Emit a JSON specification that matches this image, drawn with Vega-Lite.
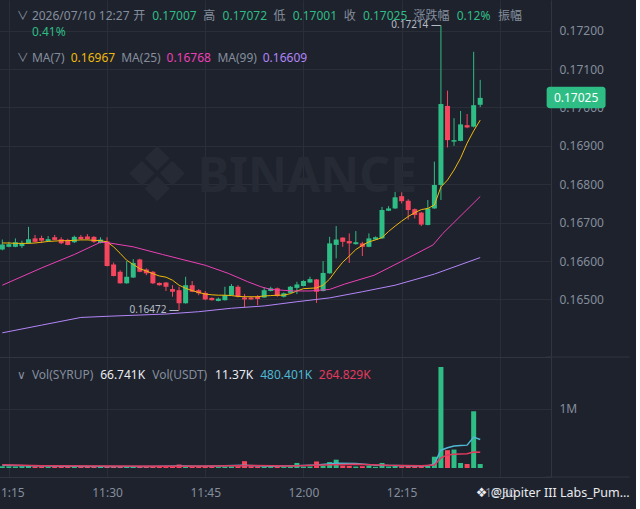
{
  "$schema": "https://vega.github.io/schema/vega-lite/v6.json",
  "background": "#1e222d",
  "padding": {"left": -7, "right": 0, "top": 0, "bottom": 0},
  "spacing": 0,
  "bounds": "flush",
  "config": {
    "view": {"stroke": null},
    "font": "Noto Sans",
    "axis": {
      "labelColor": "#848e9c",
      "labelFontSize": 12,
      "labelFont": "Noto Sans",
      "gridColor": "#2a2e39",
      "domainColor": "#30353f",
      "ticks": false
    }
  },
  "datasets": {
    "candles": [
      {"t": "2026-07-10 11:14", "o": 0.16630, "h": 0.16656, "l": 0.16628, "c": 0.16643, "v": 30000},
      {"t": "2026-07-10 11:15", "o": 0.16637, "h": 0.16650, "l": 0.16636, "c": 0.16644, "v": 28000},
      {"t": "2026-07-10 11:16", "o": 0.16637, "h": 0.16659, "l": 0.16636, "c": 0.16649, "v": 25000},
      {"t": "2026-07-10 11:17", "o": 0.16639, "h": 0.16653, "l": 0.16634, "c": 0.16647, "v": 30000},
      {"t": "2026-07-10 11:18", "o": 0.16646, "h": 0.16689, "l": 0.16645, "c": 0.16657, "v": 35000},
      {"t": "2026-07-10 11:19", "o": 0.16659, "h": 0.16668, "l": 0.16649, "c": 0.16650, "v": 25000},
      {"t": "2026-07-10 11:20", "o": 0.16660, "h": 0.16666, "l": 0.16647, "c": 0.16653, "v": 22000},
      {"t": "2026-07-10 11:21", "o": 0.16652, "h": 0.16665, "l": 0.16651, "c": 0.16657, "v": 20000},
      {"t": "2026-07-10 11:22", "o": 0.16662, "h": 0.16668, "l": 0.16654, "c": 0.16655, "v": 24000},
      {"t": "2026-07-10 11:23", "o": 0.16657, "h": 0.16662, "l": 0.16644, "c": 0.16646, "v": 30000},
      {"t": "2026-07-10 11:24", "o": 0.16655, "h": 0.16658, "l": 0.16641, "c": 0.16642, "v": 22000},
      {"t": "2026-07-10 11:25", "o": 0.16649, "h": 0.16666, "l": 0.16647, "c": 0.16663, "v": 20000},
      {"t": "2026-07-10 11:26", "o": 0.16663, "h": 0.16668, "l": 0.16656, "c": 0.16657, "v": 20000},
      {"t": "2026-07-10 11:27", "o": 0.16664, "h": 0.16670, "l": 0.16656, "c": 0.16657, "v": 22000},
      {"t": "2026-07-10 11:28", "o": 0.16663, "h": 0.16665, "l": 0.16647, "c": 0.16650, "v": 26000},
      {"t": "2026-07-10 11:29", "o": 0.16647, "h": 0.16662, "l": 0.16646, "c": 0.16656, "v": 18000},
      {"t": "2026-07-10 11:30", "o": 0.16651, "h": 0.16662, "l": 0.16586, "c": 0.16587, "v": 32000},
      {"t": "2026-07-10 11:31", "o": 0.16591, "h": 0.16596, "l": 0.16560, "c": 0.16561, "v": 24000},
      {"t": "2026-07-10 11:32", "o": 0.16572, "h": 0.16576, "l": 0.16541, "c": 0.16542, "v": 26000},
      {"t": "2026-07-10 11:33", "o": 0.16542, "h": 0.16600, "l": 0.16541, "c": 0.16559, "v": 22000},
      {"t": "2026-07-10 11:34", "o": 0.16557, "h": 0.16605, "l": 0.16556, "c": 0.16595, "v": 30000},
      {"t": "2026-07-10 11:35", "o": 0.16604, "h": 0.16606, "l": 0.16571, "c": 0.16572, "v": 22000},
      {"t": "2026-07-10 11:36", "o": 0.16578, "h": 0.16581, "l": 0.16563, "c": 0.16568, "v": 20000},
      {"t": "2026-07-10 11:37", "o": 0.16572, "h": 0.16574, "l": 0.16540, "c": 0.16542, "v": 26000},
      {"t": "2026-07-10 11:38", "o": 0.16543, "h": 0.16544, "l": 0.16536, "c": 0.16537, "v": 20000},
      {"t": "2026-07-10 11:39", "o": 0.16544, "h": 0.16545, "l": 0.16522, "c": 0.16533, "v": 24000},
      {"t": "2026-07-10 11:40", "o": 0.16527, "h": 0.16537, "l": 0.16507, "c": 0.16520, "v": 26000},
      {"t": "2026-07-10 11:41", "o": 0.16524, "h": 0.16533, "l": 0.16472, "c": 0.16490, "v": 58000},
      {"t": "2026-07-10 11:42", "o": 0.16490, "h": 0.16559, "l": 0.16489, "c": 0.16537, "v": 28000},
      {"t": "2026-07-10 11:43", "o": 0.16537, "h": 0.16548, "l": 0.16519, "c": 0.16520, "v": 22000},
      {"t": "2026-07-10 11:44", "o": 0.16524, "h": 0.16527, "l": 0.16511, "c": 0.16516, "v": 24000},
      {"t": "2026-07-10 11:45", "o": 0.16517, "h": 0.16522, "l": 0.16498, "c": 0.16500, "v": 30000},
      {"t": "2026-07-10 11:46", "o": 0.16504, "h": 0.16505, "l": 0.16497, "c": 0.16498, "v": 20000},
      {"t": "2026-07-10 11:47", "o": 0.16496, "h": 0.16505, "l": 0.16495, "c": 0.16502, "v": 16000},
      {"t": "2026-07-10 11:48", "o": 0.16498, "h": 0.16533, "l": 0.16497, "c": 0.16511, "v": 20000},
      {"t": "2026-07-10 11:49", "o": 0.16511, "h": 0.16540, "l": 0.16510, "c": 0.16535, "v": 26000},
      {"t": "2026-07-10 11:50", "o": 0.16533, "h": 0.16537, "l": 0.16505, "c": 0.16507, "v": 30000},
      {"t": "2026-07-10 11:51", "o": 0.16505, "h": 0.16514, "l": 0.16479, "c": 0.16500, "v": 115000},
      {"t": "2026-07-10 11:52", "o": 0.16505, "h": 0.16507, "l": 0.16499, "c": 0.16500, "v": 30000},
      {"t": "2026-07-10 11:53", "o": 0.16507, "h": 0.16511, "l": 0.16485, "c": 0.16501, "v": 24000},
      {"t": "2026-07-10 11:54", "o": 0.16505, "h": 0.16531, "l": 0.16504, "c": 0.16524, "v": 20000},
      {"t": "2026-07-10 11:55", "o": 0.16522, "h": 0.16533, "l": 0.16521, "c": 0.16529, "v": 16000},
      {"t": "2026-07-10 11:56", "o": 0.16529, "h": 0.16531, "l": 0.16507, "c": 0.16509, "v": 20000},
      {"t": "2026-07-10 11:57", "o": 0.16507, "h": 0.16518, "l": 0.16505, "c": 0.16516, "v": 16000},
      {"t": "2026-07-10 11:58", "o": 0.16517, "h": 0.16535, "l": 0.16516, "c": 0.16533, "v": 20000},
      {"t": "2026-07-10 11:59", "o": 0.16530, "h": 0.16546, "l": 0.16514, "c": 0.16539, "v": 85000},
      {"t": "2026-07-10 12:00", "o": 0.16535, "h": 0.16550, "l": 0.16534, "c": 0.16548, "v": 22000},
      {"t": "2026-07-10 12:01", "o": 0.16544, "h": 0.16559, "l": 0.16543, "c": 0.16553, "v": 26000},
      {"t": "2026-07-10 12:02", "o": 0.16552, "h": 0.16553, "l": 0.16491, "c": 0.16520, "v": 110000},
      {"t": "2026-07-10 12:03", "o": 0.16522, "h": 0.16600, "l": 0.16521, "c": 0.16569, "v": 40000},
      {"t": "2026-07-10 12:04", "o": 0.16568, "h": 0.16663, "l": 0.16567, "c": 0.16646, "v": 100000},
      {"t": "2026-07-10 12:05", "o": 0.16642, "h": 0.16691, "l": 0.16607, "c": 0.16656, "v": 140000},
      {"t": "2026-07-10 12:06", "o": 0.16661, "h": 0.16662, "l": 0.16637, "c": 0.16650, "v": 40000},
      {"t": "2026-07-10 12:07", "o": 0.16652, "h": 0.16672, "l": 0.16595, "c": 0.16646, "v": 35000},
      {"t": "2026-07-10 12:08", "o": 0.16644, "h": 0.16678, "l": 0.16643, "c": 0.16649, "v": 25000},
      {"t": "2026-07-10 12:09", "o": 0.16646, "h": 0.16650, "l": 0.16613, "c": 0.16637, "v": 30000},
      {"t": "2026-07-10 12:10", "o": 0.16637, "h": 0.16672, "l": 0.16636, "c": 0.16659, "v": 40000},
      {"t": "2026-07-10 12:11", "o": 0.16656, "h": 0.16664, "l": 0.16655, "c": 0.16662, "v": 20000},
      {"t": "2026-07-10 12:12", "o": 0.16659, "h": 0.16741, "l": 0.16658, "c": 0.16733, "v": 85000},
      {"t": "2026-07-10 12:13", "o": 0.16731, "h": 0.16743, "l": 0.16730, "c": 0.16737, "v": 25000},
      {"t": "2026-07-10 12:14", "o": 0.16737, "h": 0.16780, "l": 0.16736, "c": 0.16766, "v": 40000},
      {"t": "2026-07-10 12:15", "o": 0.16769, "h": 0.16779, "l": 0.16750, "c": 0.16756, "v": 30000},
      {"t": "2026-07-10 12:16", "o": 0.16757, "h": 0.16761, "l": 0.16708, "c": 0.16733, "v": 38000},
      {"t": "2026-07-10 12:17", "o": 0.16735, "h": 0.16737, "l": 0.16711, "c": 0.16720, "v": 30000},
      {"t": "2026-07-10 12:18", "o": 0.16726, "h": 0.16728, "l": 0.16691, "c": 0.16695, "v": 35000},
      {"t": "2026-07-10 12:19", "o": 0.16694, "h": 0.16759, "l": 0.16693, "c": 0.16737, "v": 40000},
      {"t": "2026-07-10 12:20", "o": 0.16737, "h": 0.16859, "l": 0.16736, "c": 0.16798, "v": 190000},
      {"t": "2026-07-10 12:21", "o": 0.16798, "h": 0.17214, "l": 0.16759, "c": 0.17009, "v": 1700000},
      {"t": "2026-07-10 12:22", "o": 0.17004, "h": 0.17044, "l": 0.16896, "c": 0.16915, "v": 300000},
      {"t": "2026-07-10 12:23", "o": 0.16911, "h": 0.16972, "l": 0.16900, "c": 0.16915, "v": 310000},
      {"t": "2026-07-10 12:24", "o": 0.16913, "h": 0.16991, "l": 0.16912, "c": 0.16956, "v": 84000},
      {"t": "2026-07-10 12:25", "o": 0.16954, "h": 0.16983, "l": 0.16946, "c": 0.16948, "v": 67000},
      {"t": "2026-07-10 12:26", "o": 0.16950, "h": 0.17145, "l": 0.16948, "c": 0.17006, "v": 955000},
      {"t": "2026-07-10 12:27", "o": 0.17007, "h": 0.17072, "l": 0.17001, "c": 0.17025, "v": 66741}
    ],
    "ma": [
      {"t": "2026-07-10 11:14", "s": "ma7", "p": 0.16647},
      {"t": "2026-07-10 11:15", "s": "ma7", "p": 0.16647},
      {"t": "2026-07-10 11:16", "s": "ma7", "p": 0.16646},
      {"t": "2026-07-10 11:17", "s": "ma7", "p": 0.16646},
      {"t": "2026-07-10 11:18", "s": "ma7", "p": 0.16646},
      {"t": "2026-07-10 11:19", "s": "ma7", "p": 0.16647},
      {"t": "2026-07-10 11:20", "s": "ma7", "p": 0.16649},
      {"t": "2026-07-10 11:21", "s": "ma7", "p": 0.16651},
      {"t": "2026-07-10 11:22", "s": "ma7", "p": 0.16652},
      {"t": "2026-07-10 11:23", "s": "ma7", "p": 0.16653},
      {"t": "2026-07-10 11:24", "s": "ma7", "p": 0.16653},
      {"t": "2026-07-10 11:25", "s": "ma7", "p": 0.16654},
      {"t": "2026-07-10 11:26", "s": "ma7", "p": 0.16655},
      {"t": "2026-07-10 11:27", "s": "ma7", "p": 0.16655},
      {"t": "2026-07-10 11:28", "s": "ma7", "p": 0.16654},
      {"t": "2026-07-10 11:29", "s": "ma7", "p": 0.16653},
      {"t": "2026-07-10 11:30", "s": "ma7", "p": 0.16650},
      {"t": "2026-07-10 11:31", "s": "ma7", "p": 0.16637},
      {"t": "2026-07-10 11:32", "s": "ma7", "p": 0.16620},
      {"t": "2026-07-10 11:33", "s": "ma7", "p": 0.16602},
      {"t": "2026-07-10 11:34", "s": "ma7", "p": 0.16591},
      {"t": "2026-07-10 11:35", "s": "ma7", "p": 0.16580},
      {"t": "2026-07-10 11:36", "s": "ma7", "p": 0.16574},
      {"t": "2026-07-10 11:37", "s": "ma7", "p": 0.16567},
      {"t": "2026-07-10 11:38", "s": "ma7", "p": 0.16561},
      {"t": "2026-07-10 11:39", "s": "ma7", "p": 0.16558},
      {"t": "2026-07-10 11:40", "s": "ma7", "p": 0.16550},
      {"t": "2026-07-10 11:41", "s": "ma7", "p": 0.16537},
      {"t": "2026-07-10 11:42", "s": "ma7", "p": 0.16529},
      {"t": "2026-07-10 11:43", "s": "ma7", "p": 0.16523},
      {"t": "2026-07-10 11:44", "s": "ma7", "p": 0.16518},
      {"t": "2026-07-10 11:45", "s": "ma7", "p": 0.16514},
      {"t": "2026-07-10 11:46", "s": "ma7", "p": 0.16512},
      {"t": "2026-07-10 11:47", "s": "ma7", "p": 0.16511},
      {"t": "2026-07-10 11:48", "s": "ma7", "p": 0.16511},
      {"t": "2026-07-10 11:49", "s": "ma7", "p": 0.16510},
      {"t": "2026-07-10 11:50", "s": "ma7", "p": 0.16508},
      {"t": "2026-07-10 11:51", "s": "ma7", "p": 0.16507},
      {"t": "2026-07-10 11:52", "s": "ma7", "p": 0.16507},
      {"t": "2026-07-10 11:53", "s": "ma7", "p": 0.16507},
      {"t": "2026-07-10 11:54", "s": "ma7", "p": 0.16509},
      {"t": "2026-07-10 11:55", "s": "ma7", "p": 0.16510},
      {"t": "2026-07-10 11:56", "s": "ma7", "p": 0.16511},
      {"t": "2026-07-10 11:57", "s": "ma7", "p": 0.16511},
      {"t": "2026-07-10 11:58", "s": "ma7", "p": 0.16515},
      {"t": "2026-07-10 11:59", "s": "ma7", "p": 0.16522},
      {"t": "2026-07-10 12:00", "s": "ma7", "p": 0.16528},
      {"t": "2026-07-10 12:01", "s": "ma7", "p": 0.16529},
      {"t": "2026-07-10 12:02", "s": "ma7", "p": 0.16530},
      {"t": "2026-07-10 12:03", "s": "ma7", "p": 0.16537},
      {"t": "2026-07-10 12:04", "s": "ma7", "p": 0.16553},
      {"t": "2026-07-10 12:05", "s": "ma7", "p": 0.16576},
      {"t": "2026-07-10 12:06", "s": "ma7", "p": 0.16597},
      {"t": "2026-07-10 12:07", "s": "ma7", "p": 0.16613},
      {"t": "2026-07-10 12:08", "s": "ma7", "p": 0.16630},
      {"t": "2026-07-10 12:09", "s": "ma7", "p": 0.16641},
      {"t": "2026-07-10 12:10", "s": "ma7", "p": 0.16650},
      {"t": "2026-07-10 12:11", "s": "ma7", "p": 0.16655},
      {"t": "2026-07-10 12:12", "s": "ma7", "p": 0.16661},
      {"t": "2026-07-10 12:13", "s": "ma7", "p": 0.16677},
      {"t": "2026-07-10 12:14", "s": "ma7", "p": 0.16691},
      {"t": "2026-07-10 12:15", "s": "ma7", "p": 0.16704},
      {"t": "2026-07-10 12:16", "s": "ma7", "p": 0.16716},
      {"t": "2026-07-10 12:17", "s": "ma7", "p": 0.16726},
      {"t": "2026-07-10 12:18", "s": "ma7", "p": 0.16734},
      {"t": "2026-07-10 12:19", "s": "ma7", "p": 0.16737},
      {"t": "2026-07-10 12:20", "s": "ma7", "p": 0.16746},
      {"t": "2026-07-10 12:21", "s": "ma7", "p": 0.16793},
      {"t": "2026-07-10 12:22", "s": "ma7", "p": 0.16811},
      {"t": "2026-07-10 12:23", "s": "ma7", "p": 0.16837},
      {"t": "2026-07-10 12:24", "s": "ma7", "p": 0.16868},
      {"t": "2026-07-10 12:25", "s": "ma7", "p": 0.16907},
      {"t": "2026-07-10 12:26", "s": "ma7", "p": 0.16939},
      {"t": "2026-07-10 12:27", "s": "ma7", "p": 0.16967},
      {"t": "2026-07-10 11:14:00", "s": "ma25", "p": 0.16537},
      {"t": "2026-07-10 11:20:00", "s": "ma25", "p": 0.16582},
      {"t": "2026-07-10 11:25:00", "s": "ma25", "p": 0.16617},
      {"t": "2026-07-10 11:29:00", "s": "ma25", "p": 0.16649},
      {"t": "2026-07-10 11:30:00", "s": "ma25", "p": 0.16648},
      {"t": "2026-07-10 11:34:00", "s": "ma25", "p": 0.16637},
      {"t": "2026-07-10 11:38:30", "s": "ma25", "p": 0.16617},
      {"t": "2026-07-10 11:45:00", "s": "ma25", "p": 0.16589},
      {"t": "2026-07-10 11:48:30", "s": "ma25", "p": 0.16568},
      {"t": "2026-07-10 11:51:30", "s": "ma25", "p": 0.16546},
      {"t": "2026-07-10 11:53:30", "s": "ma25", "p": 0.16533},
      {"t": "2026-07-10 11:55:00", "s": "ma25", "p": 0.16526},
      {"t": "2026-07-10 11:58:30", "s": "ma25", "p": 0.16522},
      {"t": "2026-07-10 12:01:00", "s": "ma25", "p": 0.16522},
      {"t": "2026-07-10 12:04:00", "s": "ma25", "p": 0.16526},
      {"t": "2026-07-10 12:06:18", "s": "ma25", "p": 0.16540},
      {"t": "2026-07-10 12:10:48", "s": "ma25", "p": 0.16563},
      {"t": "2026-07-10 12:15:18", "s": "ma25", "p": 0.16602},
      {"t": "2026-07-10 12:19:48", "s": "ma25", "p": 0.16642},
      {"t": "2026-07-10 12:21:18", "s": "ma25", "p": 0.16672},
      {"t": "2026-07-10 12:27:00", "s": "ma25", "p": 0.16768},
      {"t": "2026-07-10 11:14", "s": "ma99", "p": 0.16413},
      {"t": "2026-07-10 11:20", "s": "ma99", "p": 0.16433},
      {"t": "2026-07-10 11:26", "s": "ma99", "p": 0.16453},
      {"t": "2026-07-10 11:30", "s": "ma99", "p": 0.16456},
      {"t": "2026-07-10 11:39", "s": "ma99", "p": 0.16462},
      {"t": "2026-07-10 11:44", "s": "ma99", "p": 0.16468},
      {"t": "2026-07-10 11:49", "s": "ma99", "p": 0.16477},
      {"t": "2026-07-10 11:54", "s": "ma99", "p": 0.16483},
      {"t": "2026-07-10 11:59", "s": "ma99", "p": 0.16494},
      {"t": "2026-07-10 12:04", "s": "ma99", "p": 0.16504},
      {"t": "2026-07-10 12:09", "s": "ma99", "p": 0.16520},
      {"t": "2026-07-10 12:14", "s": "ma99", "p": 0.16537},
      {"t": "2026-07-10 12:20", "s": "ma99", "p": 0.16566},
      {"t": "2026-07-10 12:27", "s": "ma99", "p": 0.16609}
    ],
    "vma": [
      {"t": "2026-07-10 11:14", "s": "v5", "v": 45000},
      {"t": "2026-07-10 11:18", "s": "v5", "v": 38000},
      {"t": "2026-07-10 11:24", "s": "v5", "v": 28000},
      {"t": "2026-07-10 11:30", "s": "v5", "v": 27000},
      {"t": "2026-07-10 11:36", "s": "v5", "v": 25000},
      {"t": "2026-07-10 11:41", "s": "v5", "v": 32000},
      {"t": "2026-07-10 11:45", "s": "v5", "v": 30000},
      {"t": "2026-07-10 11:51", "s": "v5", "v": 45000},
      {"t": "2026-07-10 11:55", "s": "v5", "v": 28000},
      {"t": "2026-07-10 11:59", "s": "v5", "v": 38000},
      {"t": "2026-07-10 12:02", "s": "v5", "v": 50000},
      {"t": "2026-07-10 12:05", "s": "v5", "v": 80000},
      {"t": "2026-07-10 12:08", "s": "v5", "v": 75000},
      {"t": "2026-07-10 12:11", "s": "v5", "v": 45000},
      {"t": "2026-07-10 12:14", "s": "v5", "v": 42000},
      {"t": "2026-07-10 12:17", "s": "v5", "v": 35000},
      {"t": "2026-07-10 12:19", "s": "v5", "v": 36000},
      {"t": "2026-07-10 12:20", "s": "v5", "v": 70000},
      {"t": "2026-07-10 12:21", "s": "v5", "v": 300000},
      {"t": "2026-07-10 12:22", "s": "v5", "v": 340000},
      {"t": "2026-07-10 12:23", "s": "v5", "v": 370000},
      {"t": "2026-07-10 12:24", "s": "v5", "v": 380000},
      {"t": "2026-07-10 12:25", "s": "v5", "v": 385000},
      {"t": "2026-07-10 12:26", "s": "v5", "v": 520000},
      {"t": "2026-07-10 12:27", "s": "v5", "v": 480401},
      {"t": "2026-07-10 11:14", "s": "v10", "v": 55000},
      {"t": "2026-07-10 11:20", "s": "v10", "v": 38000},
      {"t": "2026-07-10 11:30", "s": "v10", "v": 32000},
      {"t": "2026-07-10 11:40", "s": "v10", "v": 30000},
      {"t": "2026-07-10 11:46", "s": "v10", "v": 33000},
      {"t": "2026-07-10 11:52", "s": "v10", "v": 42000},
      {"t": "2026-07-10 11:58", "s": "v10", "v": 35000},
      {"t": "2026-07-10 12:03", "s": "v10", "v": 50000},
      {"t": "2026-07-10 12:08", "s": "v10", "v": 65000},
      {"t": "2026-07-10 12:13", "s": "v10", "v": 45000},
      {"t": "2026-07-10 12:18", "s": "v10", "v": 38000},
      {"t": "2026-07-10 12:20", "s": "v10", "v": 50000},
      {"t": "2026-07-10 12:21", "s": "v10", "v": 170000},
      {"t": "2026-07-10 12:22", "s": "v10", "v": 220000},
      {"t": "2026-07-10 12:23", "s": "v10", "v": 230000},
      {"t": "2026-07-10 12:24", "s": "v10", "v": 235000},
      {"t": "2026-07-10 12:25", "s": "v10", "v": 240000},
      {"t": "2026-07-10 12:26", "s": "v10", "v": 268000},
      {"t": "2026-07-10 12:27", "s": "v10", "v": 264829}
    ],
    "hdr": [
      {"t": "2026-07-10 11:16:12", "p": 0.17238, "txt": "∨", "k": "gray"},
      {"t": "2026-07-10 11:18:31", "p": 0.17238, "txt": "2026/07/10 12:27", "k": "gray"},
      {"t": "2026-07-10 11:34:00", "p": 0.17238, "txt": "开", "k": "gray"},
      {"t": "2026-07-10 11:36:54", "p": 0.17238, "txt": "0.17007", "k": "green"},
      {"t": "2026-07-10 11:44:42", "p": 0.17238, "txt": "高", "k": "gray"},
      {"t": "2026-07-10 11:47:39", "p": 0.17238, "txt": "0.17072", "k": "green"},
      {"t": "2026-07-10 11:55:26", "p": 0.17238, "txt": "低", "k": "gray"},
      {"t": "2026-07-10 11:58:21", "p": 0.17238, "txt": "0.17001", "k": "green"},
      {"t": "2026-07-10 12:06:09", "p": 0.17238, "txt": "收", "k": "gray"},
      {"t": "2026-07-10 12:09:05", "p": 0.17238, "txt": "0.17025", "k": "green"},
      {"t": "2026-07-10 12:16:48", "p": 0.17238, "txt": "涨跌幅", "k": "gray"},
      {"t": "2026-07-10 12:23:24", "p": 0.17238, "txt": "0.12%", "k": "green"},
      {"t": "2026-07-10 12:29:42", "p": 0.17238, "txt": "振幅", "k": "gray"},
      {"t": "2026-07-10 11:18:31", "p": 0.17196, "txt": "0.41%", "k": "green"},
      {"t": "2026-07-10 11:16:12", "p": 0.17128, "txt": "∨", "k": "gray"},
      {"t": "2026-07-10 11:18:31", "p": 0.17128, "txt": "MA(7)", "k": "gray"},
      {"t": "2026-07-10 11:24:27", "p": 0.17128, "txt": "0.16967", "k": "ma7"},
      {"t": "2026-07-10 11:32:10", "p": 0.17128, "txt": "MA(25)", "k": "gray"},
      {"t": "2026-07-10 11:39:05", "p": 0.17128, "txt": "0.16768", "k": "ma25"},
      {"t": "2026-07-10 11:46:52", "p": 0.17128, "txt": "MA(99)", "k": "gray"},
      {"t": "2026-07-10 11:53:47", "p": 0.17128, "txt": "0.16609", "k": "ma99"}
    ],
    "vhdr": [
      {"t": "2026-07-10 11:16:12", "v": 1560600, "txt": "∨", "k": "gray"},
      {"t": "2026-07-10 11:18:31", "v": 1560600, "txt": "Vol(SYRUP)", "k": "gray"},
      {"t": "2026-07-10 11:28:57", "v": 1560600, "txt": "66.741K", "k": "white"},
      {"t": "2026-07-10 11:36:54", "v": 1560600, "txt": "Vol(USDT)", "k": "gray"},
      {"t": "2026-07-10 11:46:30", "v": 1560600, "txt": "11.37K", "k": "white"},
      {"t": "2026-07-10 11:53:24", "v": 1560600, "txt": "480.401K", "k": "cyan"},
      {"t": "2026-07-10 12:02:21", "v": 1560600, "txt": "264.829K", "k": "red"}
    ],
    "hl": [
      {"t": "2026-07-10 12:21", "p": 0.17214, "txt": "0.17214 —"},
      {"t": "2026-07-10 11:41", "p": 0.16472, "txt": "0.16472 —"}
    ],
    "pnotes": [
      {"t": "2026-07-10 11:37:39", "p": 0.16816, "txt": "❖", "g": "logo"},
      {"t": "2026-07-10 11:43:48", "p": 0.16816, "txt": "BINANCE", "g": "brand"},
      {"t": "2026-07-10 12:41:39", "p": 0.17025, "txt": "0.17025", "g": "tag"}
    ],
    "tag": [
      {"t": "2026-07-10 12:37:09", "t2": "2026-07-10 12:46:09", "p": 0.16998, "p2": 0.17054}
    ],
    "psep": [
      {"t": "2026-07-10 12:37:03", "t2": "2026-07-10 12:49:48", "p": 0.1635}
    ],
    "vsep": [
      {"t": "2026-07-10 12:37:03", "t2": "2026-07-10 12:49:48", "v": -151500}
    ],
    "vnotes": [
      {"t": "2026-07-10 12:27:12", "v": -426000, "txt": "❖", "g": "icon"},
      {"t": "2026-07-10 12:28:36", "v": -426000, "txt": "@Jupiter III Labs_Pum...", "g": "name"}
    ]
  },
  "vconcat": [
    {
      "width": 555,
      "height": 357,
      "encoding": {
        "x": {
          "field": "t",
          "type": "temporal",
          "scale": {"domain": [
            {"year": 2026, "month": 7, "date": 10, "hours": 11, "minutes": 13, "seconds": 48},
            {"year": 2026, "month": 7, "date": 10, "hours": 12, "minutes": 37, "seconds": 3}
          ]},
          "axis": {"title": null, "labels": false, "grid": true, "domain": true, "values": [
            {"year": 2026, "month": 7, "date": 10, "hours": 11, "minutes": 15},
            {"year": 2026, "month": 7, "date": 10, "hours": 11, "minutes": 30},
            {"year": 2026, "month": 7, "date": 10, "hours": 11, "minutes": 45},
            {"year": 2026, "month": 7, "date": 10, "hours": 12, "minutes": 0},
            {"year": 2026, "month": 7, "date": 10, "hours": 12, "minutes": 15},
            {"year": 2026, "month": 7, "date": 10, "hours": 12, "minutes": 30}
          ]}
        }
      },
      "layer": [
        {
          "data": {"name": "candles"},
          "mark": {"type": "rule", "strokeWidth": 1, "clip": true},
          "encoding": {
            "y": {"field": "l", "type": "quantitative", "scale": {"domain": [0.1635, 0.1728], "nice": false, "zero": false}, "axis": {"title": null, "orient": "right", "values": [0.165, 0.166, 0.167, 0.168, 0.169, 0.17, 0.171, 0.172], "format": ".5f", "labelPadding": 8, "minExtent": 85, "grid": true, "domain": true}},
            "y2": {"field": "h"},
            "color": {"condition": {"test": "datum.c >= datum.o", "value": "#2ebd85"}, "value": "#f6465d"}
          }
        },
        {
          "data": {"name": "psep"},
          "mark": {"type": "rule", "color": "#30353f", "strokeWidth": 1, "clip": false},
          "encoding": {
            "x2": {"field": "t2"},
            "y": {"field": "p", "type": "quantitative"}
          }
        },
        {
          "data": {"name": "pnotes"},
          "transform": [{"filter": "datum.g == 'logo'"}],
          "mark": {"type": "text", "font": "DejaVu Sans", "fontSize": 76, "color": "#262a35", "align": "center", "baseline": "middle"},
          "encoding": {
            "y": {"field": "p", "type": "quantitative"},
            "text": {"field": "txt"}
          }
        },
        {
          "data": {"name": "pnotes"},
          "transform": [{"filter": "datum.g == 'brand'"}],
          "mark": {"type": "text", "fontSize": 48, "fontWeight": "bold", "color": "#262a35", "align": "left", "baseline": "middle"},
          "encoding": {
            "y": {"field": "p", "type": "quantitative"},
            "text": {"field": "txt"}
          }
        },
        {
          "data": {"name": "candles"},
          "mark": {"type": "bar", "clip": true},
          "encoding": {
            "y": {"field": "o", "type": "quantitative"},
            "y2": {"field": "c"},
            "size": {"value": 5},
            "color": {"condition": {"test": "datum.c >= datum.o", "value": "#2ebd85"}, "value": "#f6465d"}
          }
        },
        {
          "data": {"name": "ma"},
          "mark": {"type": "line", "strokeWidth": 1, "clip": true},
          "encoding": {
            "y": {"field": "p", "type": "quantitative"},
            "color": {"field": "s", "type": "nominal", "legend": null, "scale": {"domain": ["ma7", "ma25", "ma99", "v5", "v10", "gray", "green", "white", "cyan", "red"], "range": ["#f0b90b", "#eb40b5", "#b385f8", "#4fb8d3", "#e23a5e", "#848e9c", "#2ebd85", "#eaecef", "#4fb8d3", "#e23a5e"]}}
          }
        },
        {
          "data": {"name": "hl"},
          "mark": {"type": "text", "fontSize": 10, "color": "#b7bdc6", "align": "right", "baseline": "middle"},
          "encoding": {
            "y": {"field": "p", "type": "quantitative"},
            "text": {"field": "txt"}
          }
        },
        {
          "data": {"name": "hdr"},
          "mark": {"type": "text", "fontSize": 12, "font": "Noto Sans, Noto Sans CJK SC", "align": "left", "baseline": "middle"},
          "encoding": {
            "y": {"field": "p", "type": "quantitative"},
            "text": {"field": "txt"},
            "color": {"field": "k", "type": "nominal", "legend": null, "scale": {"domain": ["ma7", "ma25", "ma99", "v5", "v10", "gray", "green", "white", "cyan", "red"], "range": ["#f0b90b", "#eb40b5", "#b385f8", "#4fb8d3", "#e23a5e", "#848e9c", "#2ebd85", "#eaecef", "#4fb8d3", "#e23a5e"]}}
          }
        },
        {
          "data": {"name": "tag"},
          "mark": {"type": "rect", "color": "#2ebd85", "cornerRadius": 3, "clip": false},
          "encoding": {
            "x2": {"field": "t2"},
            "y": {"field": "p", "type": "quantitative"},
            "y2": {"field": "p2"}
          }
        },
        {
          "data": {"name": "pnotes"},
          "transform": [{"filter": "datum.g == 'tag'"}],
          "mark": {"type": "text", "fontSize": 12, "color": "#ffffff", "align": "center", "baseline": "middle", "clip": false},
          "encoding": {
            "y": {"field": "p", "type": "quantitative"},
            "text": {"field": "txt"}
          }
        }
      ]
    },
    {
      "width": 555,
      "height": 120,
      "encoding": {
        "x": {
          "field": "t",
          "type": "temporal",
          "scale": {"domain": [
            {"year": 2026, "month": 7, "date": 10, "hours": 11, "minutes": 13, "seconds": 48},
            {"year": 2026, "month": 7, "date": 10, "hours": 12, "minutes": 37, "seconds": 3}
          ]},
          "axis": {"title": null, "format": "%H:%M", "grid": true, "domain": true, "labelPadding": 10, "minExtent": 32, "labelFlush": false, "values": [
            {"year": 2026, "month": 7, "date": 10, "hours": 11, "minutes": 15},
            {"year": 2026, "month": 7, "date": 10, "hours": 11, "minutes": 30},
            {"year": 2026, "month": 7, "date": 10, "hours": 11, "minutes": 45},
            {"year": 2026, "month": 7, "date": 10, "hours": 12, "minutes": 0},
            {"year": 2026, "month": 7, "date": 10, "hours": 12, "minutes": 15},
            {"year": 2026, "month": 7, "date": 10, "hours": 12, "minutes": 30}
          ]}
        }
      },
      "layer": [
        {
          "data": {"name": "candles"},
          "mark": {"type": "bar", "clip": true},
          "encoding": {
            "y": {"field": "v", "type": "quantitative", "stack": null, "scale": {"domain": [-151500, 1868700], "nice": false, "zero": false}, "axis": {"title": null, "orient": "right", "values": [1000000], "format": "~s", "labelPadding": 8, "minExtent": 85, "grid": true, "domain": true}},
            "y2": {"datum": 0},
            "size": {"value": 5},
            "color": {"condition": {"test": "datum.c >= datum.o", "value": "#2ebd85"}, "value": "#f6465d"}
          }
        },
        {
          "data": {"name": "vsep"},
          "mark": {"type": "rule", "color": "#30353f", "strokeWidth": 1, "clip": false},
          "encoding": {
            "x2": {"field": "t2"},
            "y": {"field": "v", "type": "quantitative"}
          }
        },
        {
          "data": {"name": "vma"},
          "mark": {"type": "line", "strokeWidth": 1.5, "clip": true},
          "encoding": {
            "y": {"field": "v", "type": "quantitative"},
            "color": {"field": "s", "type": "nominal", "legend": null, "scale": {"domain": ["ma7", "ma25", "ma99", "v5", "v10", "gray", "green", "white", "cyan", "red"], "range": ["#f0b90b", "#eb40b5", "#b385f8", "#4fb8d3", "#e23a5e", "#848e9c", "#2ebd85", "#eaecef", "#4fb8d3", "#e23a5e"]}}
          }
        },
        {
          "data": {"name": "vhdr"},
          "mark": {"type": "text", "fontSize": 12, "align": "left", "baseline": "middle"},
          "encoding": {
            "y": {"field": "v", "type": "quantitative"},
            "text": {"field": "txt"},
            "color": {"field": "k", "type": "nominal", "legend": null, "scale": {"domain": ["ma7", "ma25", "ma99", "v5", "v10", "gray", "green", "white", "cyan", "red"], "range": ["#f0b90b", "#eb40b5", "#b385f8", "#4fb8d3", "#e23a5e", "#848e9c", "#2ebd85", "#eaecef", "#4fb8d3", "#e23a5e"]}}
          }
        },
        {
          "data": {"name": "vnotes"},
          "transform": [{"filter": "datum.g == 'icon'"}],
          "mark": {"type": "text", "font": "DejaVu Sans", "fontSize": 13, "color": "#eaecef", "align": "center", "baseline": "middle", "clip": false},
          "encoding": {
            "y": {"field": "v", "type": "quantitative"},
            "text": {"field": "txt"}
          }
        },
        {
          "data": {"name": "vnotes"},
          "transform": [{"filter": "datum.g == 'name'"}],
          "mark": {"type": "text", "fontSize": 12.5, "color": "#eaecef", "align": "left", "baseline": "middle", "clip": false},
          "encoding": {
            "y": {"field": "v", "type": "quantitative"},
            "text": {"field": "txt"}
          }
        }
      ]
    }
  ]
}
